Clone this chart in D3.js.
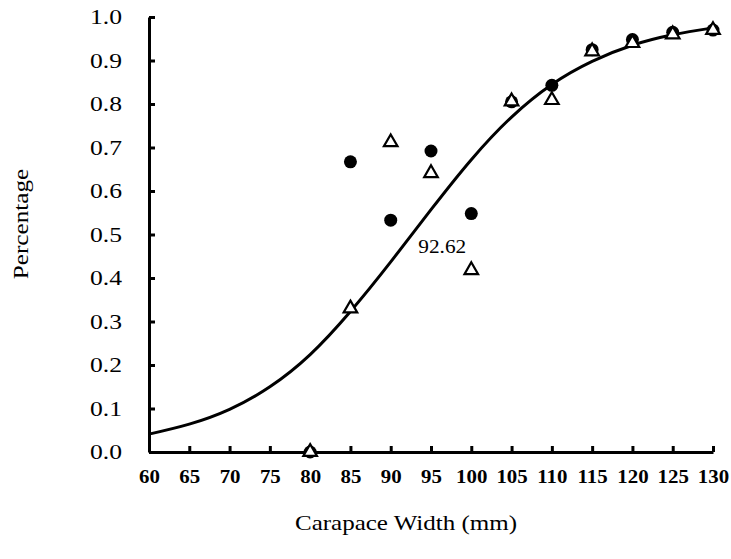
<!DOCTYPE html>
<html><head><meta charset="utf-8">
<script src="https://cdn.jsdelivr.net/npm/d3@7"></script>
<style>body{margin:0;background:#fff}svg{display:block}svg text{font-family:"Liberation Serif","Times New Roman",Times,serif !important;fill:#000}</style>
</head><body><svg id="c" width="731" height="559"></svg>
<script>
const xTicks = [60,65,70,75,80,85,90,95,100,105,110,115,120,125,130];
const yTicks = [0,0.1,0.2,0.3,0.4,0.5,0.6,0.7,0.8,0.9,1.0];
const widths = [80,85,90,95,100,105,110,115,120,125,130];
const circleVals = [0.0,0.667,0.533,0.692,0.548,0.805,0.843,0.925,0.948,0.965,0.970];
const triangleVals = [0.0,0.330,0.712,0.641,0.418,0.806,0.809,0.921,0.940,0.960,0.970];
const curveX = [60,65,70,75,80,85,90,95,100,105,110,115,120,125,130];
const curveY = [0.041,0.064,0.098,0.150,0.224,0.323,0.437,0.557,0.672,0.770,0.845,0.898,0.935,0.959,0.975];
const l50Label = "92.62";
const l50Pos = [96.4, 0.468];

const svg = d3.select("#c");
const x = d3.scaleLinear().domain([60,130]).range([149,713]);
const y = d3.scaleLinear().domain([0,1]).range([452,17]);

function stretch(sel, k){
  sel.each(function(){
    const w = this.getComputedTextLength();
    d3.select(this).attr("textLength", w*k).attr("lengthAdjust","spacingAndGlyphs");
  });
}

// axes
const xAxis = d3.axisBottom(x).tickValues(xTicks).tickSizeInner(-6).tickSizeOuter(0).tickPadding(18).tickFormat(d3.format("d"));
const gx = svg.append("g").attr("transform","translate(0,452)").call(xAxis);
gx.attr("font-family",null);
gx.select(".domain").attr("stroke","#000").attr("stroke-width",3);
gx.selectAll(".tick line").attr("stroke","#000").attr("stroke-width",3);
gx.selectAll("text").attr("font-size",19).attr("font-weight","bold");
stretch(gx.selectAll("text"), 1.1);

const yAxis = d3.axisLeft(y).tickValues(yTicks).tickSizeInner(-6).tickSizeOuter(0).tickPadding(27).tickFormat(d3.format(".1f"));
const gy = svg.append("g").attr("transform","translate(149,0)").call(yAxis);
gy.attr("font-family",null);
gy.select(".domain").attr("stroke","#000").attr("stroke-width",3);
gy.selectAll(".tick line").attr("stroke","#000").attr("stroke-width",3);
gy.selectAll("text").attr("font-size",21);
stretch(gy.selectAll("text"), 1.22);

// curve
const line = d3.line().x(d=>x(d[0])).y(d=>y(d[1])).curve(d3.curveNatural);
svg.append("path").datum(curveX.map((v,i)=>[v,curveY[i]]))
  .attr("d",line).attr("fill","none").attr("stroke","#000").attr("stroke-width",3);

// circles
svg.append("g").selectAll("circle").data(widths.map((w,i)=>[w,circleVals[i]])).join("circle")
  .attr("cx",d=>x(d[0])).attr("cy",d=>y(d[1])).attr("r",6.5).attr("fill","#000");

// triangles
const tri = d3.symbol().type(d3.symbolTriangle).size(80);
svg.append("g").selectAll("path").data(widths.map((w,i)=>[w,triangleVals[i]])).join("path")
  .attr("d",tri).attr("transform",d=>`translate(${x(d[0])},${y(d[1])})`)
  .attr("fill","#fff").attr("stroke","#000").attr("stroke-width",2.2);

// L50 label
const lab = svg.append("text").attr("x",x(l50Pos[0])).attr("y",y(l50Pos[1])).attr("text-anchor","middle")
  .attr("dominant-baseline","middle").attr("font-size",19).text(l50Label);
stretch(lab, 1.12);

// axis titles
const xt = svg.append("text").attr("x",406).attr("y",530).attr("text-anchor","middle").attr("font-size",21).text("Carapace Width (mm)");
stretch(xt, 1.19);
const yt = svg.append("text").attr("transform","translate(28,224) rotate(-90)").attr("text-anchor","middle").attr("font-size",21).text("Percentage");
stretch(yt, 1.2);
</script></body></html>
